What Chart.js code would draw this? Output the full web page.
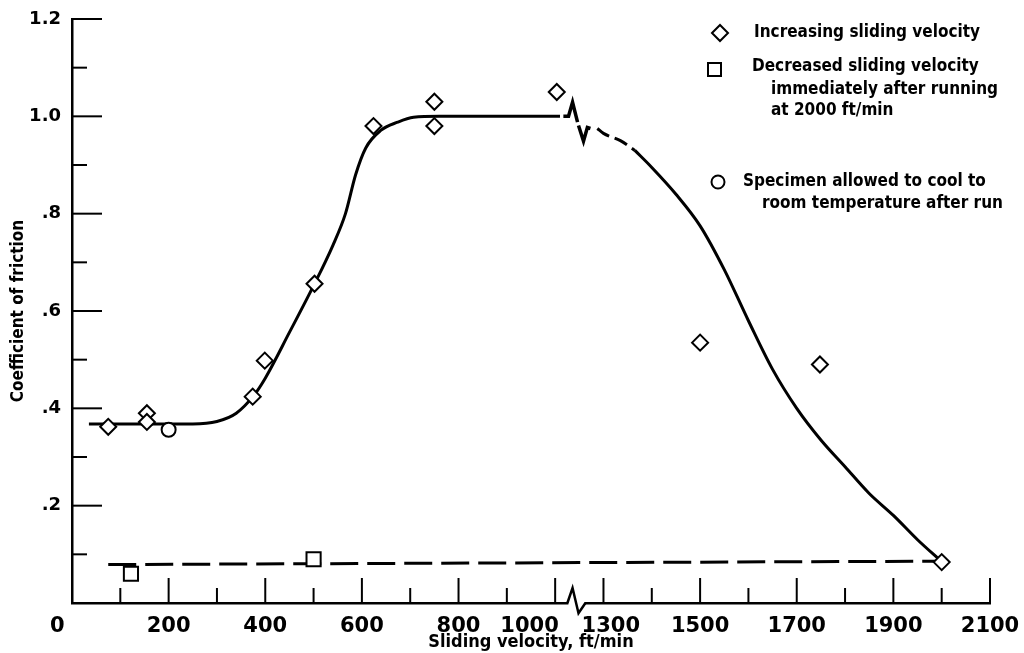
<!DOCTYPE html>
<html>
<head>
<meta charset="utf-8">
<script src="https://cdn.jsdelivr.net/npm/chart.js@4.4.1/dist/chart.umd.min.js"></script>
<style>
  html, body { margin: 0; padding: 0; background: #fff; }
  #wrap { width: 1024px; height: 653px; position: relative; }
</style>
</head>
<body>
<div id="wrap"><canvas id="chart"></canvas></div>
<script>
// Values. x in ft/min (true scale), y = coefficient of friction.
const increasingX = [75, 155, 155, 374, 399, 502, 624, 750, 750, 1010, 1500, 1748, 2000];
const increasingY = [0.362, 0.39, 0.372, 0.424, 0.498, 0.656, 0.98, 1.03, 0.98, 1.05, 0.535, 0.49, 0.084];
const decreasedX = [122, 500];
const decreasedY = [0.06, 0.09];
const cooledX = [200];
const cooledY = [0.356];

// faired curve through the increasing-velocity points
const curveLeftX = [35, 150, 250, 300, 340, 376, 400, 450, 500, 540, 566, 587, 608, 639, 674, 707, 760, 1030];
const curveLeftY = [0.368, 0.368, 0.368, 0.373, 0.39, 0.426, 0.462, 0.556, 0.652, 0.735, 0.8, 0.88, 0.935, 0.971, 0.988, 0.998, 1.0, 1.0];
const curveDashX = [1262, 1300, 1335, 1365];
const curveDashY = [0.975, 0.965, 0.95, 0.93];
const curveRightX = [1365, 1400, 1450, 1500, 1550, 1600, 1650, 1700, 1750, 1800, 1850, 1900, 1950, 2000];
const curveRightY = [0.93, 0.895, 0.84, 0.775, 0.685, 0.58, 0.48, 0.40, 0.335, 0.28, 0.225, 0.18, 0.13, 0.085];

// break marks on the curve
const breakAX = [1051, 1083, 1108, 1139];
const breakAY = [1.0, 1.0, 1.029, 0.988];
const breakBX = [1145, 1176, 1200, 1219];
const breakBY = [0.981, 0.949, 0.977, 0.975];

// flat dashed line for the decreased-velocity run
const flatX = [75, 2000];
const flatY = [0.079, 0.086];

// break mark on the x axis
const axisBreakX = [1076, 1108, 1145, 1188];
const axisBreakY = [0, 0.031, -0.021, 0];

const xTickLabels = [0, 200, 400, 600, 800, 1000, 1300, 1500, 1700, 1900, 2100];

const TICK_FONT = '"DejaVu Sans", Verdana, sans-serif';
const COND_FONT = '"Liberation Sans Narrow", "DejaVu Sans Condensed", "Roboto Condensed", sans-serif';

// 1000..1300 squeezed into one 100-unit step
function toAxis(v) {
  if (v <= 1000) return v;
  if (v >= 1300) return v - 200;
  return 1000 + (v - 1000) / 3;
}
function fromAxis(a) {
  if (a <= 1000) return a;
  if (a >= 1100) return a + 200;
  return 1000 + (a - 1000) * 3;
}
function pts(xs, ys) {
  return xs.map((v, i) => ({ x: toAxis(v), y: ys[i] }));
}
function isMajorX(a) {
  return xTickLabels.includes(Math.round(fromAxis(a)));
}

function strokeLine(ctx, x1, y1, x2, y2) {
  ctx.beginPath();
  ctx.moveTo(x1, y1);
  ctx.lineTo(x2, y2);
  ctx.stroke();
}
function diamond(ctx, cx, cy, r) {
  ctx.beginPath();
  ctx.moveTo(cx - r, cy); ctx.lineTo(cx, cy - r); ctx.lineTo(cx + r, cy); ctx.lineTo(cx, cy + r);
  ctx.closePath();
  ctx.fill(); ctx.stroke();
}

const decor = {
  id: 'decor',
  afterDraw(chart) {
    const { ctx, chartArea, scales: { x, y } } = chart;
    ctx.save();
    ctx.strokeStyle = '#000';
    ctx.fillStyle = '#fff';
    ctx.lineWidth = 2;

    // inward tick marks
    x.ticks.forEach((t) => {
      if (t.value === 0) return;
      const px = x.getPixelForValue(t.value);
      strokeLine(ctx, px, chartArea.bottom, px, chartArea.bottom - (isMajorX(t.value) ? 25 : 15));
    });
    y.ticks.forEach((t) => {
      const n = Math.round(t.value * 10);
      if (n === 0) return;
      const py = y.getPixelForValue(t.value);
      strokeLine(ctx, chartArea.left, py, chartArea.left + (n % 2 === 0 ? 30 : 15), py);
    });

    // axis break
    const bx = axisBreakX.map((v) => x.getPixelForValue(toAxis(v)));
    const by = axisBreakY.map((v) => y.getPixelForValue(v));
    ctx.fillRect(bx[0] + 1, chartArea.bottom - 3, bx[bx.length - 1] - bx[0] - 2, 6);
    ctx.lineWidth = 2.5;
    ctx.beginPath();
    bx.forEach((px, i) => (i ? ctx.lineTo(px, by[i]) : ctx.moveTo(px, by[i])));
    ctx.stroke();

    // legend
    ctx.lineWidth = 2;
    diamond(ctx, 720, 33, 8);
    ctx.beginPath(); ctx.rect(708, 63, 13, 13); ctx.fill(); ctx.stroke();
    ctx.beginPath(); ctx.arc(718, 182, 6.5, 0, Math.PI * 2); ctx.fill(); ctx.stroke();

    ctx.fillStyle = '#000';
    ctx.font = `bold 17px ${COND_FONT}`;
    ctx.textBaseline = 'middle';
    ctx.textAlign = 'left';
    ctx.fillText('Increasing sliding velocity', 754, 33);
    ctx.fillText('Decreased sliding velocity', 752, 67);
    ctx.fillText('immediately after running', 771, 90);
    ctx.fillText('at 2000 ft/min', 771, 111);
    ctx.fillText('Specimen allowed to cool to', 743, 182);
    ctx.fillText('room temperature after run', 762, 204);
    ctx.restore();
  }
};

const lineStyle = { borderColor: '#000', borderWidth: 3, pointRadius: 0, fill: false, order: 2 };
const markStyle = { showLine: false, backgroundColor: '#fff', borderColor: '#000', pointBorderWidth: 2, order: 0 };

new Chart(document.getElementById('chart'), {
  type: 'line',
  data: {
    datasets: [
      { ...lineStyle, data: pts(curveLeftX, curveLeftY), cubicInterpolationMode: 'monotone' },
      { ...lineStyle, data: pts(curveDashX, curveDashY), cubicInterpolationMode: 'monotone', borderDash: [14, 6] },
      { ...lineStyle, data: pts(curveRightX, curveRightY), cubicInterpolationMode: 'monotone' },
      { ...lineStyle, data: pts(breakAX, breakAY), tension: 0, borderWidth: 3.5 },
      { ...lineStyle, data: pts(breakBX, breakBY), tension: 0, borderWidth: 3.5 },
      { ...lineStyle, data: pts(flatX, flatY), tension: 0, borderDash: [28, 9] },
      { ...markStyle, label: 'Increasing sliding velocity', data: pts(increasingX, increasingY), pointStyle: 'rectRot', pointRadius: 8 },
      { ...markStyle, label: 'Decreased sliding velocity', data: pts(decreasedX, decreasedY), pointStyle: 'rect', pointRadius: 10 },
      { ...markStyle, label: 'Specimen allowed to cool', data: pts(cooledX, cooledY), pointStyle: 'circle', pointRadius: 7 }
    ]
  },
  options: {
    responsive: true,
    maintainAspectRatio: false,
    animation: false,
    events: [],
    layout: { padding: { top: 19, right: 34, bottom: 0, left: 0 } },
    plugins: { legend: { display: false }, tooltip: { enabled: false } },
    scales: {
      x: {
        type: 'linear',
        min: 0,
        max: 1900,
        afterFit(scale) { scale.height = 50; },
        grid: { display: false },
        border: { display: true, color: '#000', width: 2.5 },
        ticks: {
          stepSize: 100,
          autoSkip: false,
          maxRotation: 0,
          padding: 3,
          color: '#000',
          font: { family: TICK_FONT, size: 21, weight: 'bold' },
          callback(value) {
            const real = Math.round(fromAxis(value));
            if (!xTickLabels.includes(real)) return '';
            if (real === 0) return '0    ';
            if (real === 1000) return '1000       ';
            if (real === 1300) return '  1300';
            return String(real);
          }
        },
        title: {
          display: true,
          text: 'Sliding velocity, ft/min',
          color: '#000',
          font: { family: COND_FONT, size: 18, weight: 'bold' },
          padding: { top: 0, bottom: 0 }
        }
      },
      y: {
        min: 0,
        max: 1.2,
        afterFit(scale) { scale.width = 72; },
        grid: { display: false },
        border: { display: true, color: '#000', width: 2.5 },
        ticks: {
          stepSize: 0.1,
          autoSkip: false,
          padding: 3,
          color: '#000',
          font: { family: TICK_FONT, size: 18, weight: 'bold' },
          callback(value) {
            const n = Math.round(value * 10);
            if (n === 0 || n % 2) return '';
            const s = (n / 10).toFixed(1);
            return n >= 10 ? s : s.slice(1);
          }
        },
        title: {
          display: true,
          text: 'Coefficient of friction',
          color: '#000',
          font: { family: COND_FONT, size: 17, weight: 'bold' },
          padding: { top: 8, bottom: 0 }
        }
      }
    }
  },
  plugins: [decor]
});
</script>
</body>
</html>
